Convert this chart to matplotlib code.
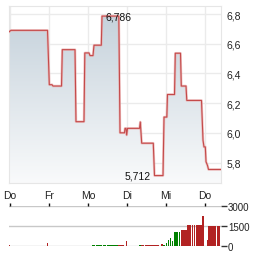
import numpy as np
import matplotlib
matplotlib.use("Agg")
import matplotlib.pyplot as plt
from matplotlib.patches import Polygon

plt.rcParams['font.family'] = ['Liberation Sans', 'DejaVu Sans']

# price series (time in days from first Thursday, price in EUR)
price_t = [-0.026, 0.026, 0.962, 1.008, 1.077, 1.103, 1.321, 1.341, 1.667, 1.692,
           1.897, 1.918, 2.026, 2.051, 2.128, 2.154, 2.341, 2.359, 2.790, 2.821,
           2.936, 2.949, 2.974, 2.992, 3.013, 3.321, 3.341, 3.377, 3.674, 3.705,
           3.923, 3.949, 4.021, 4.038, 4.218, 4.238, 4.372, 4.392, 4.513, 4.533,
           4.910, 4.949, 4.974, 5.008, 5.026, 5.064, 5.090, 5.410]
price_v = [6.680, 6.690, 6.690, 6.324, 6.324, 6.315, 6.315, 6.560, 6.560, 6.075,
           6.075, 6.538, 6.538, 6.520, 6.520, 6.590, 6.590, 6.786, 6.786, 6.000,
           6.000, 6.030, 6.030, 5.985, 6.030, 6.030, 6.073, 5.930, 5.930, 5.712,
           5.712, 6.106, 6.106, 6.258, 6.258, 6.536, 6.536, 6.315, 6.315, 6.218,
           6.218, 5.950, 5.905, 5.905, 5.805, 5.780, 5.753, 5.753]

day_labels = ["Do", "Fr", "Mo", "Di", "Mi", "Do"]
price_ticks = [5.8, 6.0, 6.2, 6.4, 6.6, 6.8]

# volume bars: start (days), duration (days), volume, up?
vol_t = [-0.026, 0.949, 2.103, 2.205, 2.385, 2.487, 2.769, 2.941, 2.967, 3.308,
         3.367, 3.469, 3.872, 3.931, 3.992, 4.051, 4.095, 4.146, 4.213, 4.264,
         4.326, 4.385, 4.538, 4.674, 4.726, 4.777, 4.923, 5.018, 5.044, 5.077, 5.308]
vol_d = [0.026, 0.026, 0.077, 0.146, 0.077, 0.282, 0.154, 0.020, 0.026, 0.051,
         0.069, 0.351, 0.051, 0.044, 0.026, 0.020, 0.033, 0.026, 0.036, 0.036,
         0.041, 0.154, 0.103, 0.020, 0.020, 0.146, 0.059, 0.018, 0.026, 0.197, 0.085]
vol_v = [100, 250, 110, 110, 110, 110, 130, 300, 400, 110,
         130, 130, 160, 110, 250, 500, 650, 425, 1075, 1075,
         1075, 1225, 1600, 1600, 1600, 1600, 2275, 1125, 450, 1550, 1550]
vol_up = [0, 0, 1, 1, 1, 1, 0, 1, 0, 1,
          0, 0, 0, 1, 1, 1, 1, 1, 1, 1,
          1, 0, 0, 0, 0, 0, 0, 0, 0, 0, 0]
vol_ticks = [0, 1500, 3000]

W, H = 264, 255
fig = plt.figure(figsize=(W / 100, H / 100), dpi=100)

# main price chart
ax = fig.add_axes([9 / W, 1 - 184 / H, 212 / W, 177 / H])
xlim = (-0.0256, 5.41)
ax.set_xlim(*xlim)
ax.set_ylim(5.662, 6.854)

grad = np.linspace(1, 0, 256).reshape(-1, 1)
cmap = matplotlib.colors.LinearSegmentedColormap.from_list("g", ["#f9fafb", "#c3d0da"])
im = ax.imshow(grad, cmap=cmap, aspect="auto", extent=[xlim[0], xlim[1], 5.662, 6.854],
               origin="upper", zorder=1)
poly_pts = list(zip(price_t, price_v)) + [(price_t[-1], 5.662), (price_t[0], 5.662)]
poly = Polygon(poly_pts, closed=True, transform=ax.transData, facecolor="none", edgecolor="none")
ax.add_patch(poly)
im.set_clip_path(poly)

ax.plot(price_t, price_v, color="#e9a8a8", lw=1.8, alpha=0.7, zorder=3)
ax.plot(price_t, price_v, color="#c44a4a", lw=0.8, zorder=4)

ax.set_xticks(range(6))
ax.set_xticklabels(day_labels)
ax.set_yticks(price_ticks)
ax.set_yticklabels([f"{v:.1f}".replace(".", ",") for v in price_ticks])
ax.yaxis.tick_right()
ax.tick_params(axis="both", length=0, labelsize=7.5, colors="#222222")
ax.tick_params(axis="x", pad=5)
ax.tick_params(axis="y", pad=4)
ax.grid(True, color="#ebebeb", lw=1, zorder=0)
ax.set_axisbelow(True)
for s in ax.spines.values():
    s.set_color("#e6e6e6")

imax = int(np.argmax(price_v))
imin = int(np.argmin(price_v))
ax.text(price_t[imax + 1] - 0.01, price_v[imax], f"{price_v[imax]:.3f}".replace(".", ","),
        ha="center", va="center", fontsize=7.5, color="#111111", zorder=5)
ax.text(price_t[imin] - 0.11, price_v[imin], f"{price_v[imin]:.3f}".replace(".", ","),
        ha="right", va="center", fontsize=7.5, color="#111111", zorder=5)

# volume chart
ax2 = fig.add_axes([9 / W, 1 - 247.3 / H, 212 / W, 40 / H])
ax2.set_xlim(*xlim)
ax2.set_ylim(0, 3000)
ax2.bar(vol_t, vol_v, width=vol_d, align="edge",
        color=["#008000" if u else "#b22222" for u in vol_up], linewidth=0, zorder=3)
for v in vol_ticks:
    ax2.axhline(v, color="#c8c8c8", lw=1, zorder=1)
for s in ax2.spines.values():
    s.set_visible(False)
ax2.set_xticks(range(6))
ax2.set_xticklabels([])
ax2.xaxis.tick_top()
ax2.tick_params(axis="x", length=2.5, width=1, color="#111111", direction="out")
ax2.set_yticks(vol_ticks)
ax2.yaxis.tick_right()
ax2.tick_params(axis="y", length=4, width=1, color="#333333", labelsize=7,
                pad=1, labelcolor="#222222")

fig.savefig("out.png", dpi=100)
